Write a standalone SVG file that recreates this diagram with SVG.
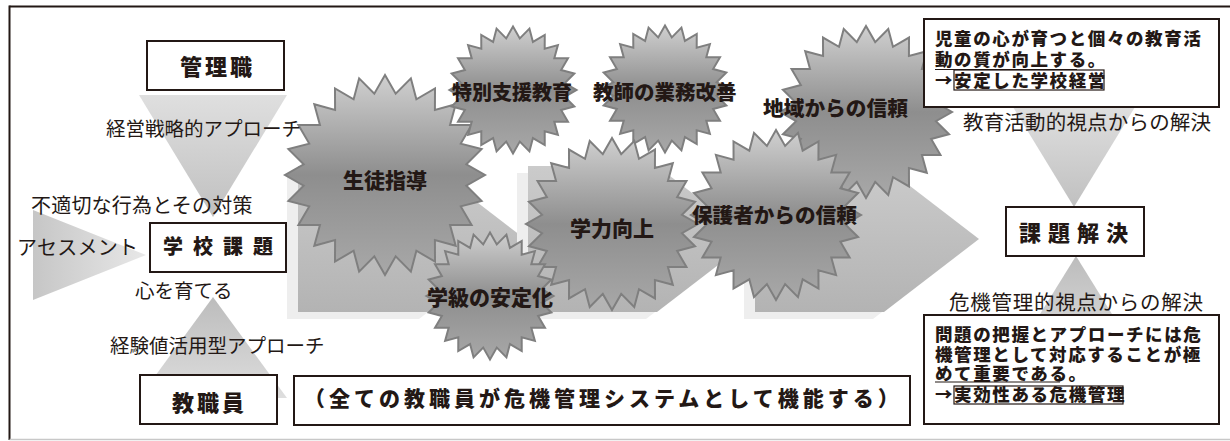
<svg xmlns="http://www.w3.org/2000/svg" xmlns:xlink="http://www.w3.org/1999/xlink" width="1230" height="441" viewBox="0 0 1230 441">
<style>
.box{fill:#fff;stroke:#231815;stroke-width:2}
.thin{fill:none;stroke:#231815;stroke-width:1.2}
.lbl{font-family:"Noto Sans CJK JP","Noto Sans CJK SC",sans-serif;font-weight:400;fill:#231815}
.b{font-family:"Noto Sans CJK JP","Noto Sans CJK SC",sans-serif;font-weight:900;fill:#231815}
.pent{fill:url(#gPent)}
.shadow{fill:#eeeeee}
</style>
<defs>
<linearGradient id="gStar" x1="0" y1="0" x2="0" y2="1">
<stop offset="0" stop-color="#d0d0d0"/>
<stop offset="0.5" stop-color="#8e8e8e"/>
<stop offset="1" stop-color="#a8a8a8"/>
</linearGradient>
<linearGradient id="gPent" x1="0" y1="0" x2="0" y2="1">
<stop offset="0" stop-color="#cbcbcb"/>
<stop offset="1" stop-color="#b3b3b3"/>
</linearGradient>
<linearGradient id="gDown" x1="0" y1="0" x2="0" y2="1">
<stop offset="0" stop-color="#dfdfdf"/>
<stop offset="1" stop-color="#c0c0c0"/>
</linearGradient>
<linearGradient id="gUp" x1="0" y1="0" x2="0" y2="1">
<stop offset="0" stop-color="#bcbcbc"/>
<stop offset="1" stop-color="#dedede"/>
</linearGradient>
<linearGradient id="gRight" x1="0" y1="0" x2="1" y2="0">
<stop offset="0" stop-color="#c6c6c6"/>
<stop offset="1" stop-color="#e8e8e8"/>
</linearGradient>
<polygon id="star" fill="url(#gStar)" stroke="#7f7f7f" stroke-width="2" vector-effect="non-scaling-stroke" points="0,-100 10.7,-81.3 25.88,-96.59 31.38,-75.76 50,-86.6 49.92,-65.05 70.71,-70.71 65.05,-49.92 86.6,-50 75.76,-31.38 96.59,-25.88 81.3,-10.7 100,0 81.3,10.7 96.59,25.88 75.76,31.38 86.6,50 65.05,49.92 70.71,70.71 49.92,65.05 50,86.6 31.38,75.76 25.88,96.59 10.7,81.3 0,100 -10.7,81.3 -25.88,96.59 -31.38,75.76 -50,86.6 -49.92,65.05 -70.71,70.71 -65.05,49.92 -86.6,50 -75.76,31.38 -96.59,25.88 -81.3,10.7 -100,0 -81.3,-10.7 -96.59,-25.88 -75.76,-31.38 -86.6,-50 -65.05,-49.92 -70.71,-70.71 -49.92,-65.05 -50,-86.6 -31.38,-75.76 -25.88,-96.59 -10.7,-81.3"/>
</defs>

<rect x="0" y="0" width="1230" height="441" fill="#fff"/>
<g id="frame">
<line x1="9.5" y1="6.5" x2="1230" y2="6.5" stroke="#231815" stroke-width="2.2"/>
<line x1="9.5" y1="5.5" x2="9.5" y2="440" stroke="#231815" stroke-width="2"/>
<line x1="9.5" y1="439.5" x2="1230" y2="439.5" stroke="#c8c8c8" stroke-width="1.5"/>
</g>

<g id="flow-arrows">
<polygon class="shadow" points="287,173 419,173 514,246 419,319 287,319"/>
<polygon class="pent" points="298,166 430,166 525,239 430,312 298,312"/>
<polygon class="shadow" points="517,173 646,173 741,246 646,319 517,319"/>
<polygon class="pent" points="528,166 657,166 752,239 657,312 528,312"/>
<polygon class="shadow" points="744,173 873,173 968,246 873,319 744,319"/>
<polygon class="pent" points="755,166 884,166 979,239 884,312 755,312"/>
</g>

<g id="connectors">
<polygon fill="url(#gDown)" points="139,95 287,95 213,217"/>
<polygon fill="url(#gRight)" points="33,210 33,300 146,255"/>
<polygon fill="url(#gUp)" points="213,297 287,398 139,398"/>
<polygon fill="url(#gDown)" points="1013,107 1135,107 1074,207"/>
<polygon fill="url(#gUp)" points="1076,256 1138,356 1014,356"/>
</g>

<g id="node-seitoshido">
<use xlink:href="#star" transform="translate(385,175)"/>
<text class="b" x="343" y="188" font-size="21">生徒指導</text>
</g>
<g id="node-tokubetsu">
<use xlink:href="#star" transform="translate(513,90) scale(0.635)"/>
<text class="b" x="452" y="99.5" font-size="20">特別支援教育</text>
</g>
<g id="node-gyomu">
<use xlink:href="#star" transform="translate(665,89) scale(0.635)"/>
<text class="b" x="593" y="100" font-size="20.5">教師の業務改善</text>
</g>
<g id="node-chiiki">
<use xlink:href="#star" transform="translate(866,112) scale(0.86)"/>
<text class="b" x="763" y="116" font-size="20.7">地域からの信頼</text>
</g>
<g id="node-gakuryoku">
<use xlink:href="#star" transform="translate(612,224) scale(0.86)"/>
<text class="b" x="570" y="236" font-size="21">学力向上</text>
</g>
<g id="node-hogosha">
<use xlink:href="#star" transform="translate(776,215) scale(0.85)"/>
<text class="b" x="692" y="223" font-size="20.6">保護者からの信頼</text>
</g>
<g id="node-gakkyu">
<use xlink:href="#star" transform="translate(490,296) scale(0.635)"/>
<text class="b" x="427" y="305" font-size="21">学級の安定化</text>
</g>

<g id="node-kanrishoku">
<rect class="box" x="147" y="41" width="137" height="49"/>
<text class="b" x="180" y="75" font-size="22" letter-spacing="3">管理職</text>
</g>
<g id="node-gakkokadai">
<rect class="box" x="150" y="223" width="136" height="49"/>
<text class="b" x="163" y="254" font-size="20" letter-spacing="10">学校課題</text>
</g>
<g id="node-kyoshokuin">
<rect class="box" x="140" y="375" width="137" height="49"/>
<text class="b" x="172" y="411" font-size="22" letter-spacing="3">教職員</text>
</g>
<g id="node-subete">
<rect class="box" x="294" y="376" width="616" height="49"/>
<text class="b" x="304" y="405.5" font-size="21" letter-spacing="4">（全ての教職員が危機管理システムとして機能する）</text>
</g>
<g id="node-kadaikaiketsu">
<rect class="box" x="1006" y="207" width="138" height="49"/>
<text class="b" x="1019" y="241" font-size="22" letter-spacing="7">課題解決</text>
</g>
<g id="node-anteikeiei">
<rect class="box" x="924" y="19" width="295" height="88"/>
<text class="b" font-size="17.5" letter-spacing="1.6"><tspan x="935" y="45">児童の心が育つと個々の教育活</tspan><tspan x="935" y="66">動の質が向上する。</tspan><tspan x="935" y="87">→安定した学校経営</tspan></text>
<line class="thin" x1="935" y1="69.5" x2="1077" y2="69.5"/>
<rect class="thin" x="954" y="70" width="150" height="20"/>
</g>
<g id="node-kikikanri">
<rect class="box" x="924" y="315" width="295" height="109"/>
<text class="b" font-size="17.5" letter-spacing="1.6"><tspan x="935" y="341">問題の把握とアプローチには危</tspan><tspan x="935" y="360.5">機管理として対応することが極</tspan><tspan x="935" y="380">めて重要である。</tspan><tspan x="935" y="400.5">→実効性ある危機管理</tspan></text>
<line class="thin" x1="935" y1="382" x2="1060" y2="382"/>
<rect class="thin" x="954" y="386" width="169" height="18"/>
</g>

<g id="connector-labels">
<text class="lbl" x="106" y="136" font-size="19.5">経営戦略的アプローチ</text>
<text class="lbl" x="31" y="212.5" font-size="20" letter-spacing="0.2">不適切な行為とその対策</text>
<text class="lbl" x="17" y="255" font-size="20" letter-spacing="0.3">アセスメント</text>
<text class="lbl" x="135" y="298" font-size="19.5">心を育てる</text>
<text class="lbl" x="110" y="352.5" font-size="19.5">経験値活用型アプローチ</text>
<text class="lbl" x="963" y="130" font-size="20.5" textLength="248" lengthAdjust="spacing">教育活動的視点からの解決</text>
<text class="lbl" x="949" y="310" font-size="20.5" textLength="254" lengthAdjust="spacing">危機管理的視点からの解決</text>
</g>
</svg>
